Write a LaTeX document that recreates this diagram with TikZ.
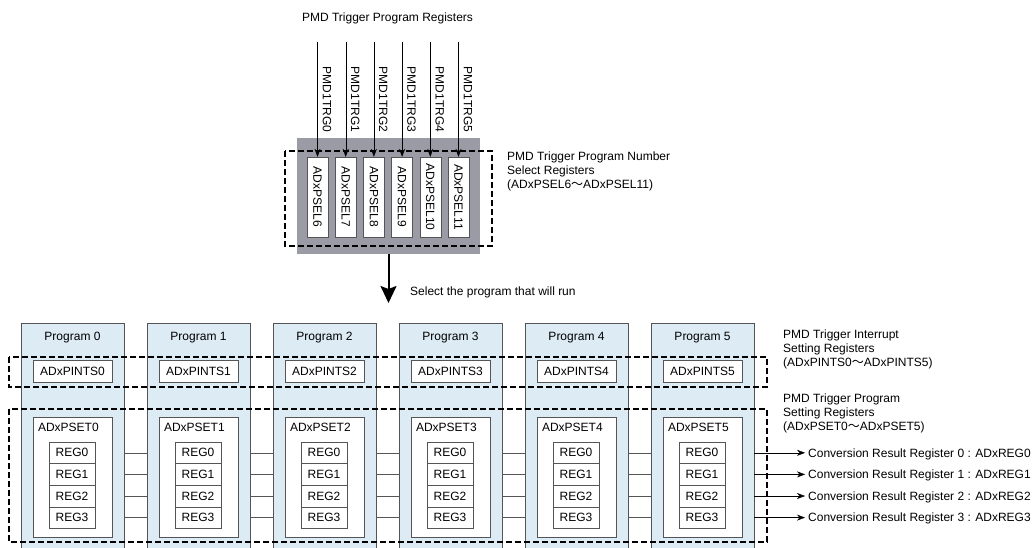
\documentclass[tikz,border=0pt]{standalone}
\usepackage{fontspec}
\setmainfont{Liberation Sans}
\newfontfamily\cjkjp{Noto Sans CJK JP}
\usepackage{tikz}
\usetikzlibrary{calc,positioning,arrows.meta}
\definecolor{progblue}{HTML}{DCEBF4}
\definecolor{selgray}{HTML}{9B9BA6}
\definecolor{edgegray}{HTML}{555555}
\newcommand{\wave}{{\cjkjp ～}}

\begin{document}
\begin{tikzpicture}[x=1pt, y=-1pt, font=\fontsize{12}{14}\selectfont,
    >={Stealth[length=8pt,width=6pt]},
    regbox/.style={draw=edgegray, fill=white, inner sep=0pt},
    progcol/.style={draw=edgegray, fill=progblue, minimum width=103pt,
                    minimum height=230pt, inner sep=0pt},
    grp/.style={draw=black, line width=1.5pt, dash pattern=on 6pt off 3pt},
    note/.style={align=left, anchor=west, inner sep=0pt}]
  \useasboundingbox (0,0) rectangle (1033,547);
  % trigger program number select
  \node (title) at (387.5,18) {PMD Trigger Program Registers};
  \node[fill=selgray, minimum width=183pt, minimum height=116pt] (selblk) at (388.5,196) {};
  \foreach \i in {0,...,5} {
    \coordinate (trg\i) at (317.5+28.2*\i, 42);
    \node[regbox, minimum width=80pt, minimum height=21pt, rotate=-90]
          (sel\i) at (317.5+28.2*\i, 197) {ADxPSEL\the\numexpr\i+6\relax};
    \draw[->] (trg\i) -- node[rotate=-90, anchor=south, inner sep=5pt, pos=0.5]
          {PMD1TRG\i} (sel\i.west);
  }
  \draw[grp] (285,151) rectangle (492,246);
  \node[note] (selnote) at (507,171)
        {PMD Trigger Program Number\\Select Registers\\(ADxPSEL6\wave ADxPSEL11)};
  \coordinate (pick) at (388.5,303);
  \draw[-{Stealth[length=17pt,width=16pt,inset=3pt]}, line width=2pt] (selblk.south) -- (pick);
  \node[note] (picknote) at (410,292) {Select the program that will run};
  % programs
  \foreach \k in {0,...,5} {
    \node[progcol] (prog\k) at (72.5+126*\k, 438) {};
    \node (name\k) at (72.5+126*\k, 338) {Program \k};
    \node[regbox, minimum width=79pt, minimum height=22pt]
          (pints\k) at (72.5+126*\k, 371) {ADxPINTS\k};
    \node[regbox, minimum width=79pt, minimum height=120pt]
          (pset\k) at (72.5+126*\k, 477) {};
    \node[anchor=west, inner sep=0pt] at ($(pset\k.north west)+(5,11)$) {ADxPSET\k};
    \foreach \r in {0,...,3}
      \node[regbox, minimum width=46pt, minimum height=21.6pt]
            (reg\k-\r) at (72+126*\k, 452.8+21.6*\r) {REG\r};
  }
  \draw[grp] (9,357) rectangle (767,387);
  \draw[grp] (9,409) rectangle (767,542);
  \node[note] (intnote) at (783,349)
        {PMD Trigger Interrupt\\Setting Registers\\(ADxPINTS0\wave ADxPINTS5)};
  \node[note] (setnote) at (783,413)
        {PMD Trigger Program\\Setting Registers\\(ADxPSET0\wave ADxPSET5)};
  % register links
  \foreach \k [count=\kk] in {0,...,4}
    \foreach \r in {0,...,3}
      \draw[edgegray] (prog\k.east |- reg\k-\r) -- (prog\kk.west |- reg\k-\r);
  \foreach \r in {0,...,3} {
    \node[anchor=west, inner sep=3pt, text depth=0pt] (out\r) at (805, 452.8+21.6*\r)
          {Conversion Result Register \r\ : ADxREG\r};
    \draw[->] (prog5.east |- reg5-\r) -- (out\r.west);
  }
\end{tikzpicture}
\end{document}
